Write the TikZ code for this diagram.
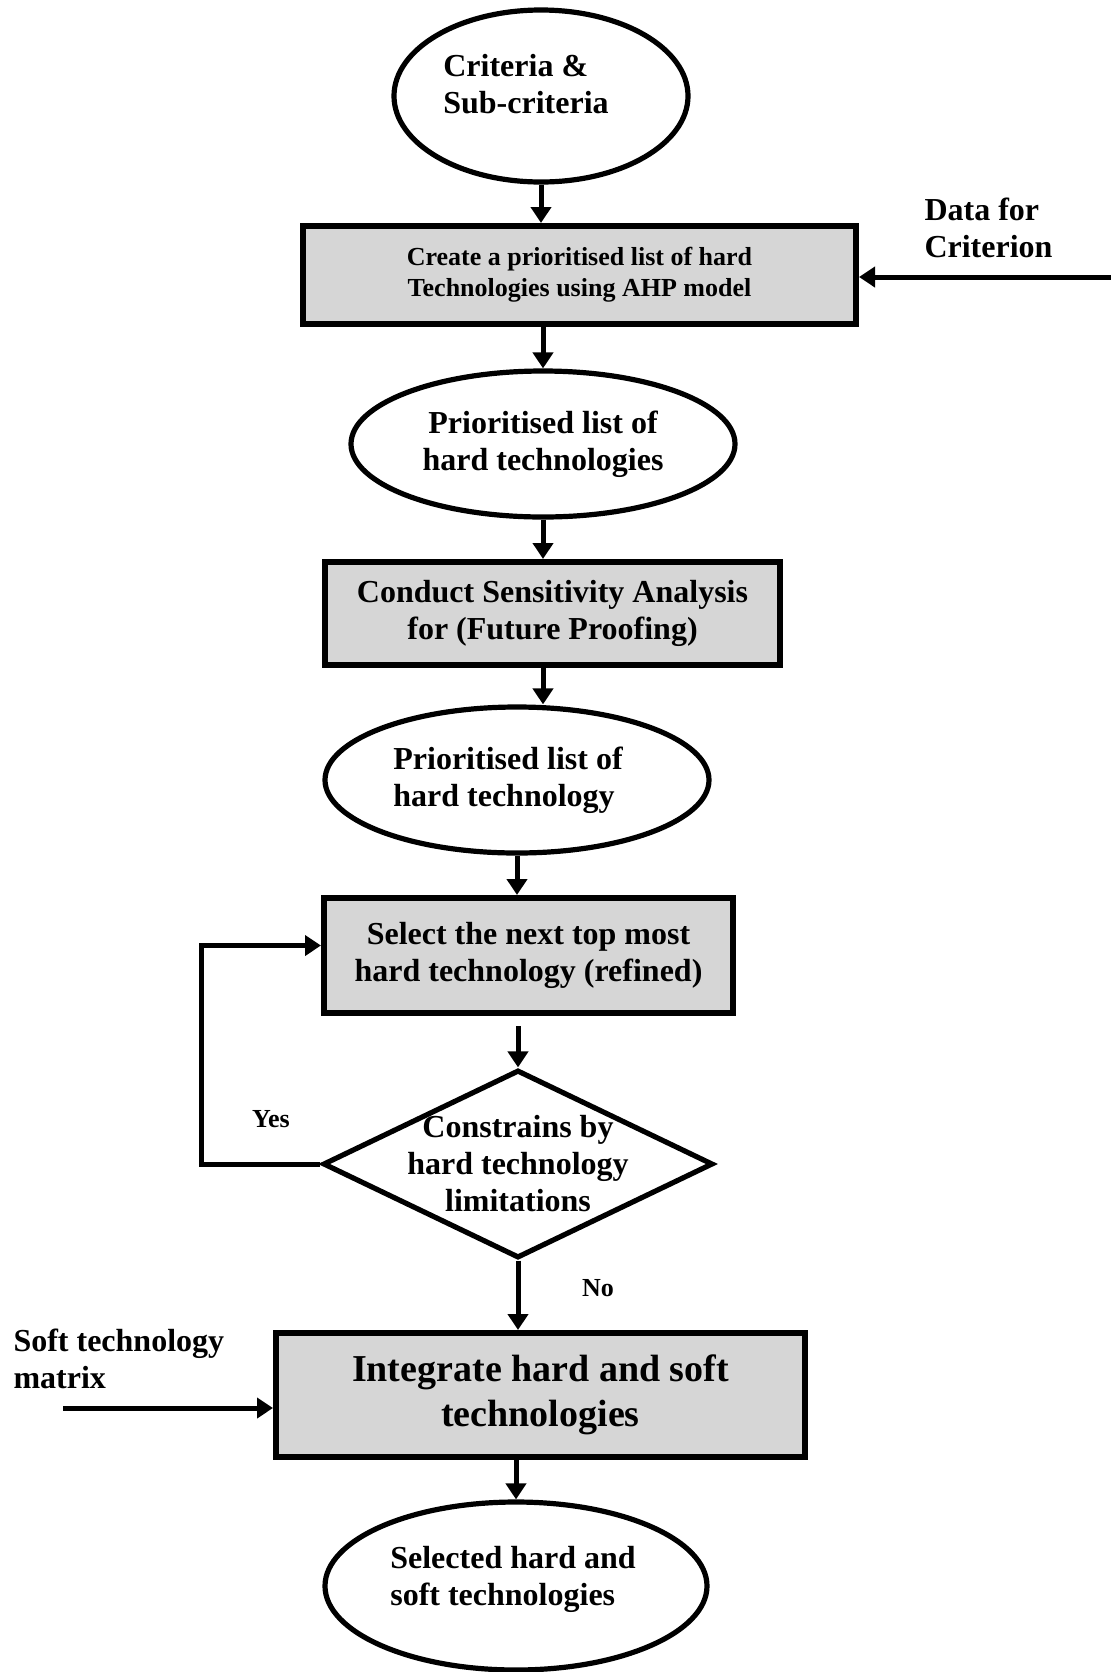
\documentclass[tikz,border=0pt]{standalone}
\usepackage{fontspec}
\setmainfont{Liberation Serif}
\usepackage{tikz}
\usetikzlibrary{shapes.geometric,arrows.meta}

\begin{document}
\begin{tikzpicture}[x=0.5pt,y=-0.5pt,line width=2.5pt,
  >={Triangle[length=8pt,width=10pt]},
  every node/.style={font=\bfseries\fontsize{16}{18.5}\selectfont},
  oval/.style={ellipse,draw,line width=2.6pt,inner sep=0pt},
  box/.style={draw,line width=3pt,fill=black!16,align=center,inner sep=0pt},
  tag/.style={font=\bfseries\fontsize{13}{15}\selectfont}]
\useasboundingbox (0,0) rectangle (1111,1672);

\node[oval,minimum width=147pt,minimum height=86pt,
  label={[align=left,xshift=-7.5pt,yshift=6pt]center:{Criteria \&\\Sub-criteria}}] (crit) at (541,96) {};
\node[box,minimum width=276.5pt,minimum height=49pt,font=\bfseries\fontsize{13}{15.5}\selectfont] (ahp) at (579.5,275) {Create a prioritised list of hard\\Technologies using AHP model};
\node[oval,align=center,minimum width=192pt,minimum height=73pt] (prio) at (543,444) {Prioritised list of\\hard technologies};
\node[box,minimum width=227.5pt,minimum height=51.5pt] (sens) at (552.5,613.5) {Conduct Sensitivity Analysis\\for (Future Proofing)};
\node[oval,minimum width=192pt,minimum height=73pt,
  label={[align=left,xshift=-4.5pt]center:{Prioritised list of\\hard technology}}] (prio2) at (517,780) {};
\node[box,minimum width=204.5pt,minimum height=57.5pt] (sel) at (528.5,955.5) {Select the next top most\\hard technology (refined)};
\node[diamond,draw,line width=2.6pt,inner sep=0pt,minimum width=195pt,minimum height=94pt,
  label={[align=center]center:{Constrains by\\hard technology\\limitations}}] (chk) at (518,1164) {};
\node[box,minimum width=264.5pt,minimum height=62pt,font=\bfseries\fontsize{19}{22.5}\selectfont] (integ) at (540.5,1395) {Integrate hard and soft\\technologies};
\node[oval,minimum width=191pt,minimum height=84pt,
  label={[align=left,xshift=-1.5pt,yshift=3.5pt]center:{Selected hard and\\soft technologies}}] (sel2) at (516,1586) {};

\node[anchor=west,align=left,inner sep=0pt] (data) at (922,228) {Data for\\Criterion};
\node[anchor=west,align=left,inner sep=0pt] (soft) at (11,1359) {Soft technology\\matrix};
\node[tag] (yes) at (271,1119) {Yes};
\node[tag] (no) at (598,1288) {No};
\coordinate (datain) at (1111,277);
\coordinate (softin) at (63,1408);

\draw[->] (crit.south) -- (crit.south |- ahp.north);
\draw[->] (prio.north |- ahp.south) -- (prio.north);
\draw[->] (prio.south) -- (prio.south |- sens.north);
\draw[->] (prio.south |- sens.south) -- (prio.south |- prio2.north);
\draw[->] (prio2.south) -- (prio2.south |- sel.north);
\draw[->,shorten <=5pt] (chk.north |- sel.south) -- (chk.north);
\draw[->] (chk.south) -- (chk.south |- integ.north);
\draw[->] (sel2.north |- integ.south) -- (sel2.north);
\draw[->] (datain) -- (datain -| ahp.east);
\draw[->] (softin) -- (softin -| integ.west);
\draw[->] (chk.west) -- ++(-119,0) |- ([yshift=5pt]sel.west);
\end{tikzpicture}
\end{document}
